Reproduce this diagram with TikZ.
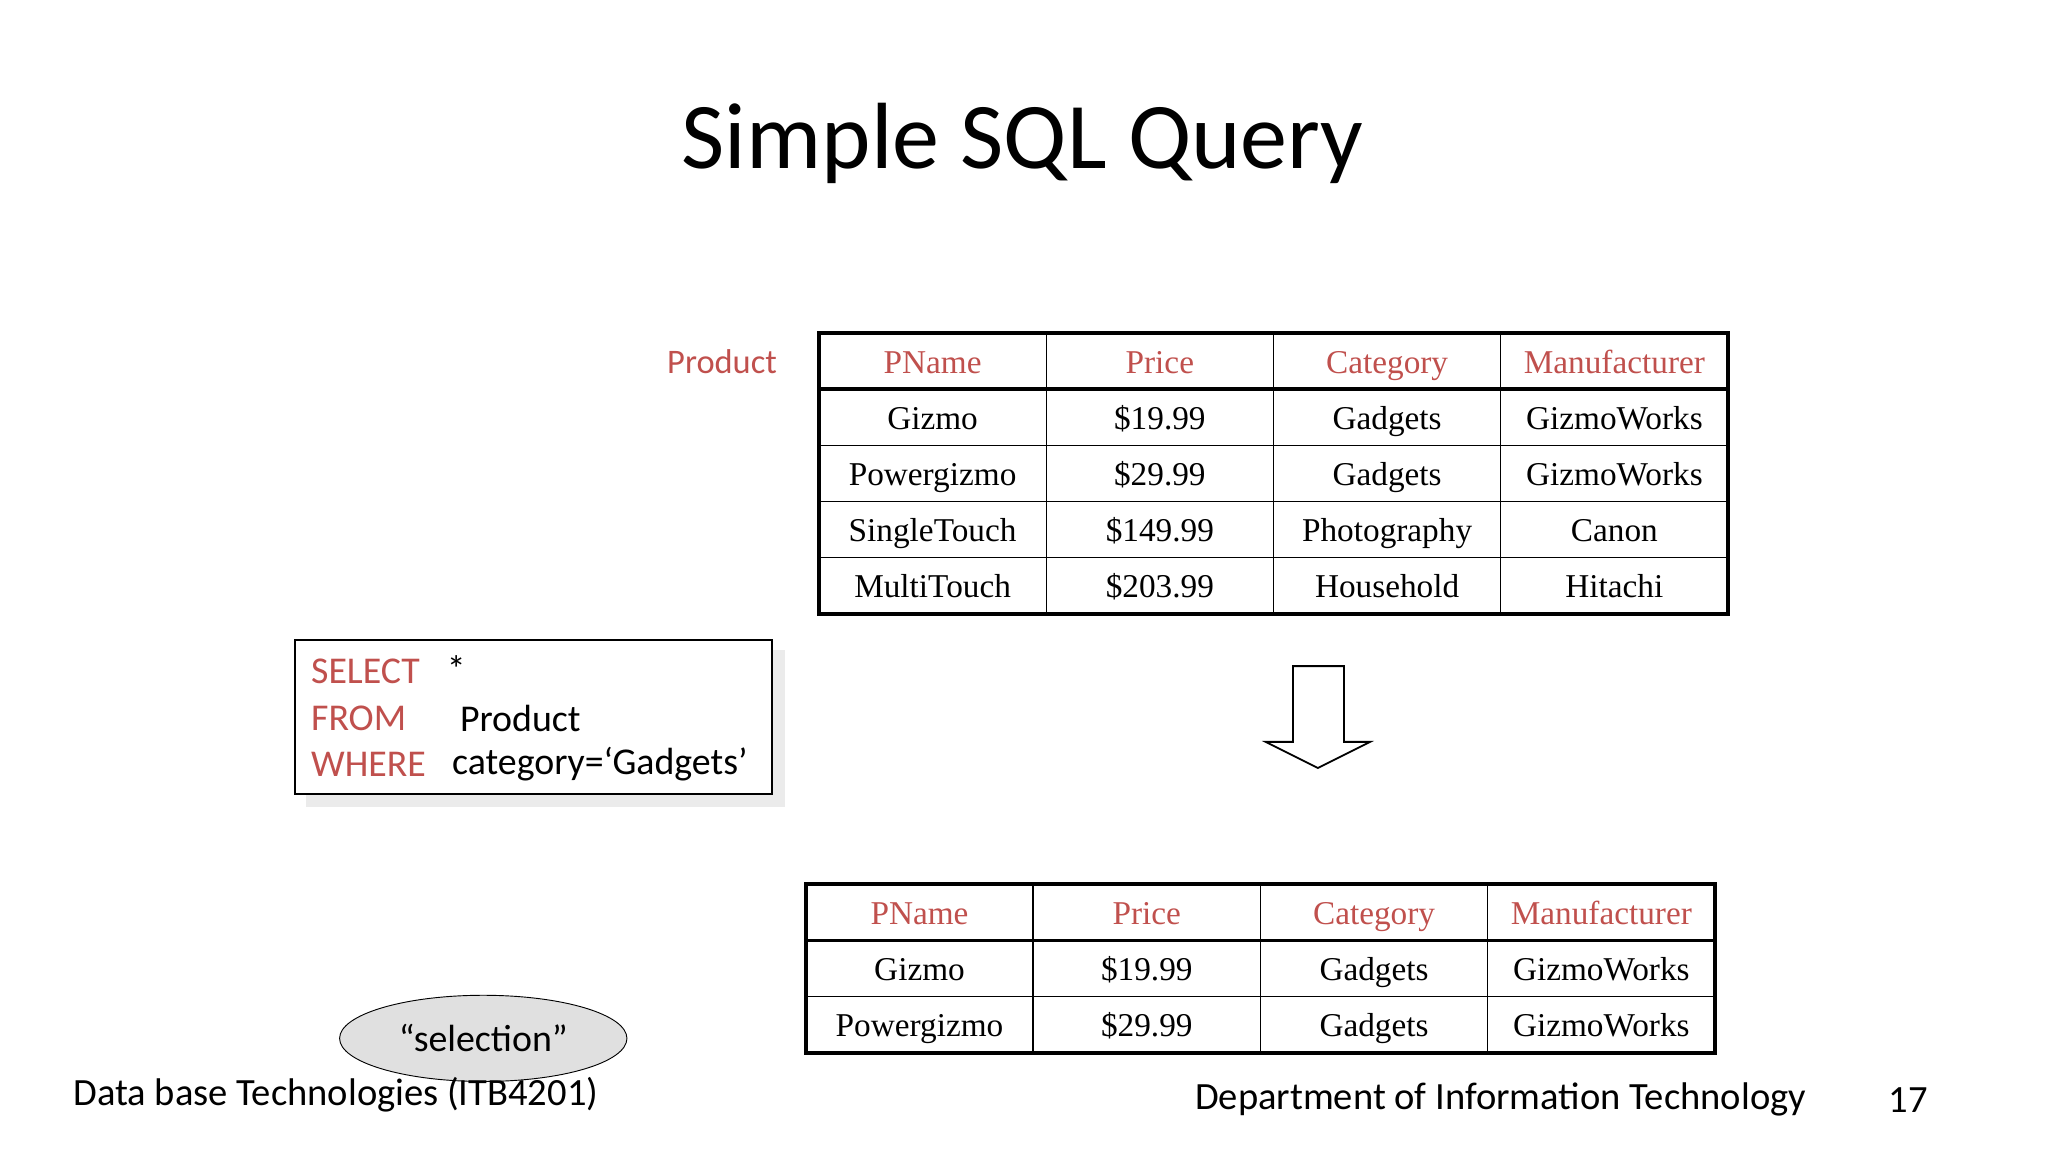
\documentclass[tikz,border=0pt]{standalone}
\usepackage{fontspec}
\setmainfont{Carlito}
\newfontfamily\tabfont{Liberation Serif}
\usetikzlibrary{shapes.geometric}
\definecolor{sqlred}{HTML}{C0504D}
\tikzset{
  cell/.style = {font=\tabfont\fontsize{14.5}{16}\selectfont, anchor=center,
    text height=1.6ex, text depth=0.45ex},
  head/.style = {cell, text=sqlred},
  kw/.style = {font=\fontsize{16.5}{18}\selectfont, text=sqlred, anchor=west},
  sq/.style = {font=\fontsize{16.5}{18}\selectfont, anchor=west},
  foot/.style = {font=\fontsize{16.8}{18}\selectfont},
  grid/.style = {line width=0.6pt},
  frame/.style = {line width=1.6pt}
}
\begin{document}
\begin{tikzpicture}[x=0.02cm, y=-0.02cm]
\useasboundingbox (0,0) rectangle (1568,882);
\node[font=\fontsize{41}{46}\selectfont] (title) at (783,110) {Simple SQL Query};

% input table
\node[text=sqlred, font=\fontsize{15}{18}\selectfont, anchor=east] (prod) at (601,277) {Product};
\foreach \y in {298,341,384,427} \draw[grid] (627,\y) -- (1323,\y);
\draw[frame] (627,298) -- (1323,298);
\foreach \x in {801,975,1149} \draw[grid] (\x,255) -- (\x,470);
\draw[frame] (627,255) rectangle (1323,470);
\foreach \t [count=\i] in {PName,Price,Category,Manufacturer}
  \node[head] (ih\i) at (540+174*\i,281) {\t};
\foreach \a/\b/\c/\d [count=\r] in {Gizmo/\$19.99/Gadgets/GizmoWorks,
    Powergizmo/\$29.99/Gadgets/GizmoWorks,
    SingleTouch/\$149.99/Photography/Canon,
    MultiTouch/\$203.99/Household/Hitachi}{
  \node[cell] (ia\r) at (714,281+43*\r) {\a};
  \node[cell] (ib\r) at (888,281+43*\r) {\b};
  \node[cell] (ic\r) at (1062,281+43*\r) {\c};
  \node[cell] (id\r) at (1236,281+43*\r) {\d};
}

% query box
\fill[black!8] (234,498) rectangle (601,618);
\draw[fill=white, line width=0.7pt] (226,490) rectangle (591,608);
\node[kw] (sel) at (232,514) {SELECT};
\node[kw] (frm) at (232,550) {FROM};
\node[kw] (whr) at (232,585) {WHERE};
\node[sq] (star) at (336,512) {*};
\node[sq] (from) at (346,550) {Product};
\node[sq] (cond) at (340,585) {category=‘Gadgets’};

% arrow
\draw[line width=0.8pt, fill=white] (990,510) -- (1029,510) -- (1029,568) -- (1049,568)
  -- (1009,588) -- (969,568) -- (990,568) -- cycle;

% result table
\foreach \y in {720,763} \draw[grid] (617,\y) -- (1313,\y);
\draw[frame] (617,720) -- (1313,720);
\foreach \x in {791,965,1139} \draw[grid] (\x,677) -- (\x,806);
\draw[frame] (617,677) rectangle (1313,806);
\foreach \t [count=\i] in {PName,Price,Category,Manufacturer}
  \node[head] (oh\i) at (530+174*\i,703) {\t};
\foreach \a/\b/\c/\d [count=\r] in {Gizmo/\$19.99/Gadgets/GizmoWorks,
    Powergizmo/\$29.99/Gadgets/GizmoWorks}{
  \node[cell] (oa\r) at (704,703+43*\r) {\a};
  \node[cell] (ob\r) at (878,703+43*\r) {\b};
  \node[cell] (oc\r) at (1052,703+43*\r) {\c};
  \node[cell] (od\r) at (1226,703+43*\r) {\d};
}

% selection label
\node[ellipse, draw, fill=black!12, minimum width=220*0.02cm, minimum height=66*0.02cm,
  font=\fontsize{16.5}{18}\selectfont] (selection) at (370,795) {“selection”};

% footer
\node[foot, anchor=west] (course) at (50,838) {Data base Technologies (ITB4201)};
\node[foot, anchor=east] (dept) at (1389,842) {Department of Information Technology};
\node[foot] (page) at (1461,842) {17};
\end{tikzpicture}
\end{document}
